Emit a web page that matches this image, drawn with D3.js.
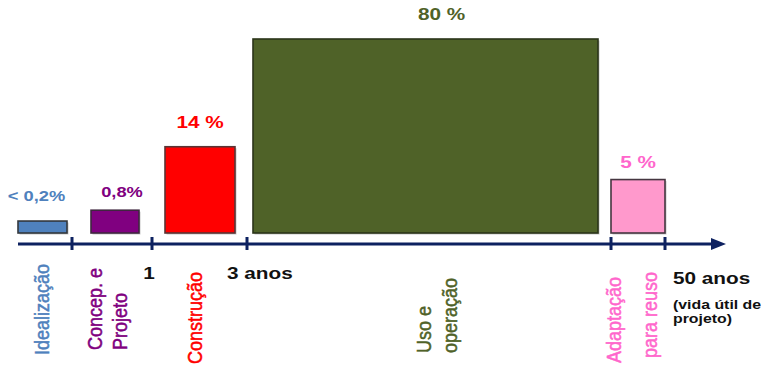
<!DOCTYPE html>
<html>
<head>
<meta charset="utf-8">
<script src="https://cdn.jsdelivr.net/npm/d3@7"></script>
<style>
  html, body { margin: 0; padding: 0; background: #fff; }
  svg { display: block; font-family: "Liberation Sans", Arial, sans-serif; }
</style>
</head>
<body>
<svg id="chart" width="767" height="366"></svg>
<script>
// Life-cycle phases of a building and their share of total cost
const phases = ["Idealização", "Concep. e Projeto", "Construção", "Uso e operação", "Adaptação para reuso"];
const phaseLines = [["Idealização"], ["Concep. e", "Projeto"], ["Construção"], ["Uso e", "operação"], ["Adaptação", "para reuso"]];
const shares = [0.2, 0.8, 14, 80, 5];
const shareLabels = ["< 0,2%", "0,8%", "14 %", "80 %", "5 %"];
const timeLabels = ["1", "3 anos", "50 anos"];
const noteLines = ["(vida útil de", "projeto)"];

const barFill   = ["#4F81BD", "#800080", "#FF0000", "#4F6228", "#FF99CC"];
const barStroke = ["#33373d", "#3f263f", "#5a3434", "#2b3519", "#453640"];
const textFill  = ["#4F81BD", "#800080", "#FF0000", "#4F6228", "#FF66CC"];

const svg = d3.select("#chart");
const STRETCH = 1.22;        // horizontal text is drawn slightly widened
const axisY = 244;

// Timeline: phase boundaries on a piecewise scale
const x = d3.scaleLinear().domain(d3.range(6)).range([18, 72, 152, 247, 611, 665]);
// Bar height: compressed power scale so the small phases stay visible
const y = d3.scalePow().exponent(0.465).domain([0, 80]).range([233, 39]);

// bar insets inside each phase segment
const insetL = [0, 19, 13, 6, 0];
const insetR = [5, 13, 12, 13, 0];

const bars = shares.map((v, i) => ({
  v, i,
  x0: x(i) + insetL[i],
  x1: x(i + 1) - insetR[i]
}));

// soft drop shadow
svg.append("g").selectAll("rect").data(bars).join("rect")
  .attr("x", d => d.x0 + 1.5)
  .attr("y", d => y(d.v) + 1.5)
  .attr("width", d => d.x1 - d.x0)
  .attr("height", d => y(0) - y(d.v))
  .attr("fill", "#c8c8c8");

svg.append("g").selectAll("rect").data(bars).join("rect")
  .attr("x", d => d.x0)
  .attr("y", d => y(d.v))
  .attr("width", d => d.x1 - d.x0)
  .attr("height", d => y(0) - y(d.v))
  .attr("fill", d => barFill[d.i])
  .attr("stroke", d => barStroke[d.i])
  .attr("stroke-width", 1.6);

// value labels above bars
const labelDx = [-6, 7, 0, 16, 0];
const labelGap = [20, 13, 19, 19, 12];
const labelSize = [15, 15, 17, 17, 17];
svg.append("g").selectAll("text").data(bars).join("text")
  .attr("transform", d => `translate(${(d.x0 + d.x1) / 2 + labelDx[d.i]},${y(d.v) - labelGap[d.i]}) scale(${STRETCH},1)`)
  .attr("text-anchor", "middle")
  .attr("font-weight", "bold")
  .attr("font-size", d => labelSize[d.i])
  .attr("fill", d => textFill[d.i])
  .text(d => shareLabels[d.i]);

// time axis with arrow
const axisColor = "#0D2160";
svg.append("line")
  .attr("x1", x(0)).attr("x2", 716)
  .attr("y1", axisY).attr("y2", axisY)
  .attr("stroke", axisColor).attr("stroke-width", 3);
svg.append("path")
  .attr("d", d3.line()([[711, axisY - 6], [726, axisY], [711, axisY + 6]]) + "Z")
  .attr("fill", axisColor);
svg.append("g").selectAll("line").data(d3.range(1, 6)).join("line")
  .attr("x1", d => x(d)).attr("x2", d => x(d))
  .attr("y1", axisY - 7).attr("y2", axisY + 6)
  .attr("stroke", axisColor).attr("stroke-width", 3);

// time marks under the axis
const timePos = [[149, 279, "middle"], [227, 279, "start"], [673, 284, "start"]];
svg.append("g").selectAll("text").data(timeLabels).join("text")
  .attr("transform", (d, i) => `translate(${timePos[i][0]},${timePos[i][1]}) scale(${STRETCH},1)`)
  .attr("text-anchor", (d, i) => timePos[i][2])
  .attr("font-weight", "bold")
  .attr("font-size", 17)
  .attr("fill", "#111")
  .text(d => d);

svg.append("g").selectAll("text").data(noteLines).join("text")
  .attr("transform", (d, i) => `translate(673,${309 + i * 14}) scale(${STRETCH},1)`)
  .attr("font-weight", "bold")
  .attr("font-size", 13)
  .attr("fill", "#111")
  .text(d => d);

// rotated phase names below the axis
const linePos = [
  [[49, 355]],
  [[102, 350], [127, 350]],
  [[202, 364]],
  [[431, 353], [457, 353]],
  [[621, 363], [657, 358]]
];
const nameItems = [];
phaseLines.forEach((lines, i) => lines.forEach((t, j) =>
  nameItems.push({ t, i, px: linePos[i][j][0], py: linePos[i][j][1] })));
svg.append("g").selectAll("text").data(nameItems).join("text")
  .attr("transform", d => `translate(${d.px},${d.py}) scale(1.12,1) rotate(-90)`)
  .attr("font-size", 18)
  .attr("fill", d => textFill[d.i])
  .attr("stroke", d => textFill[d.i])
  .attr("stroke-width", 0.45)
  .text(d => d.t);
</script>
</body>
</html>
